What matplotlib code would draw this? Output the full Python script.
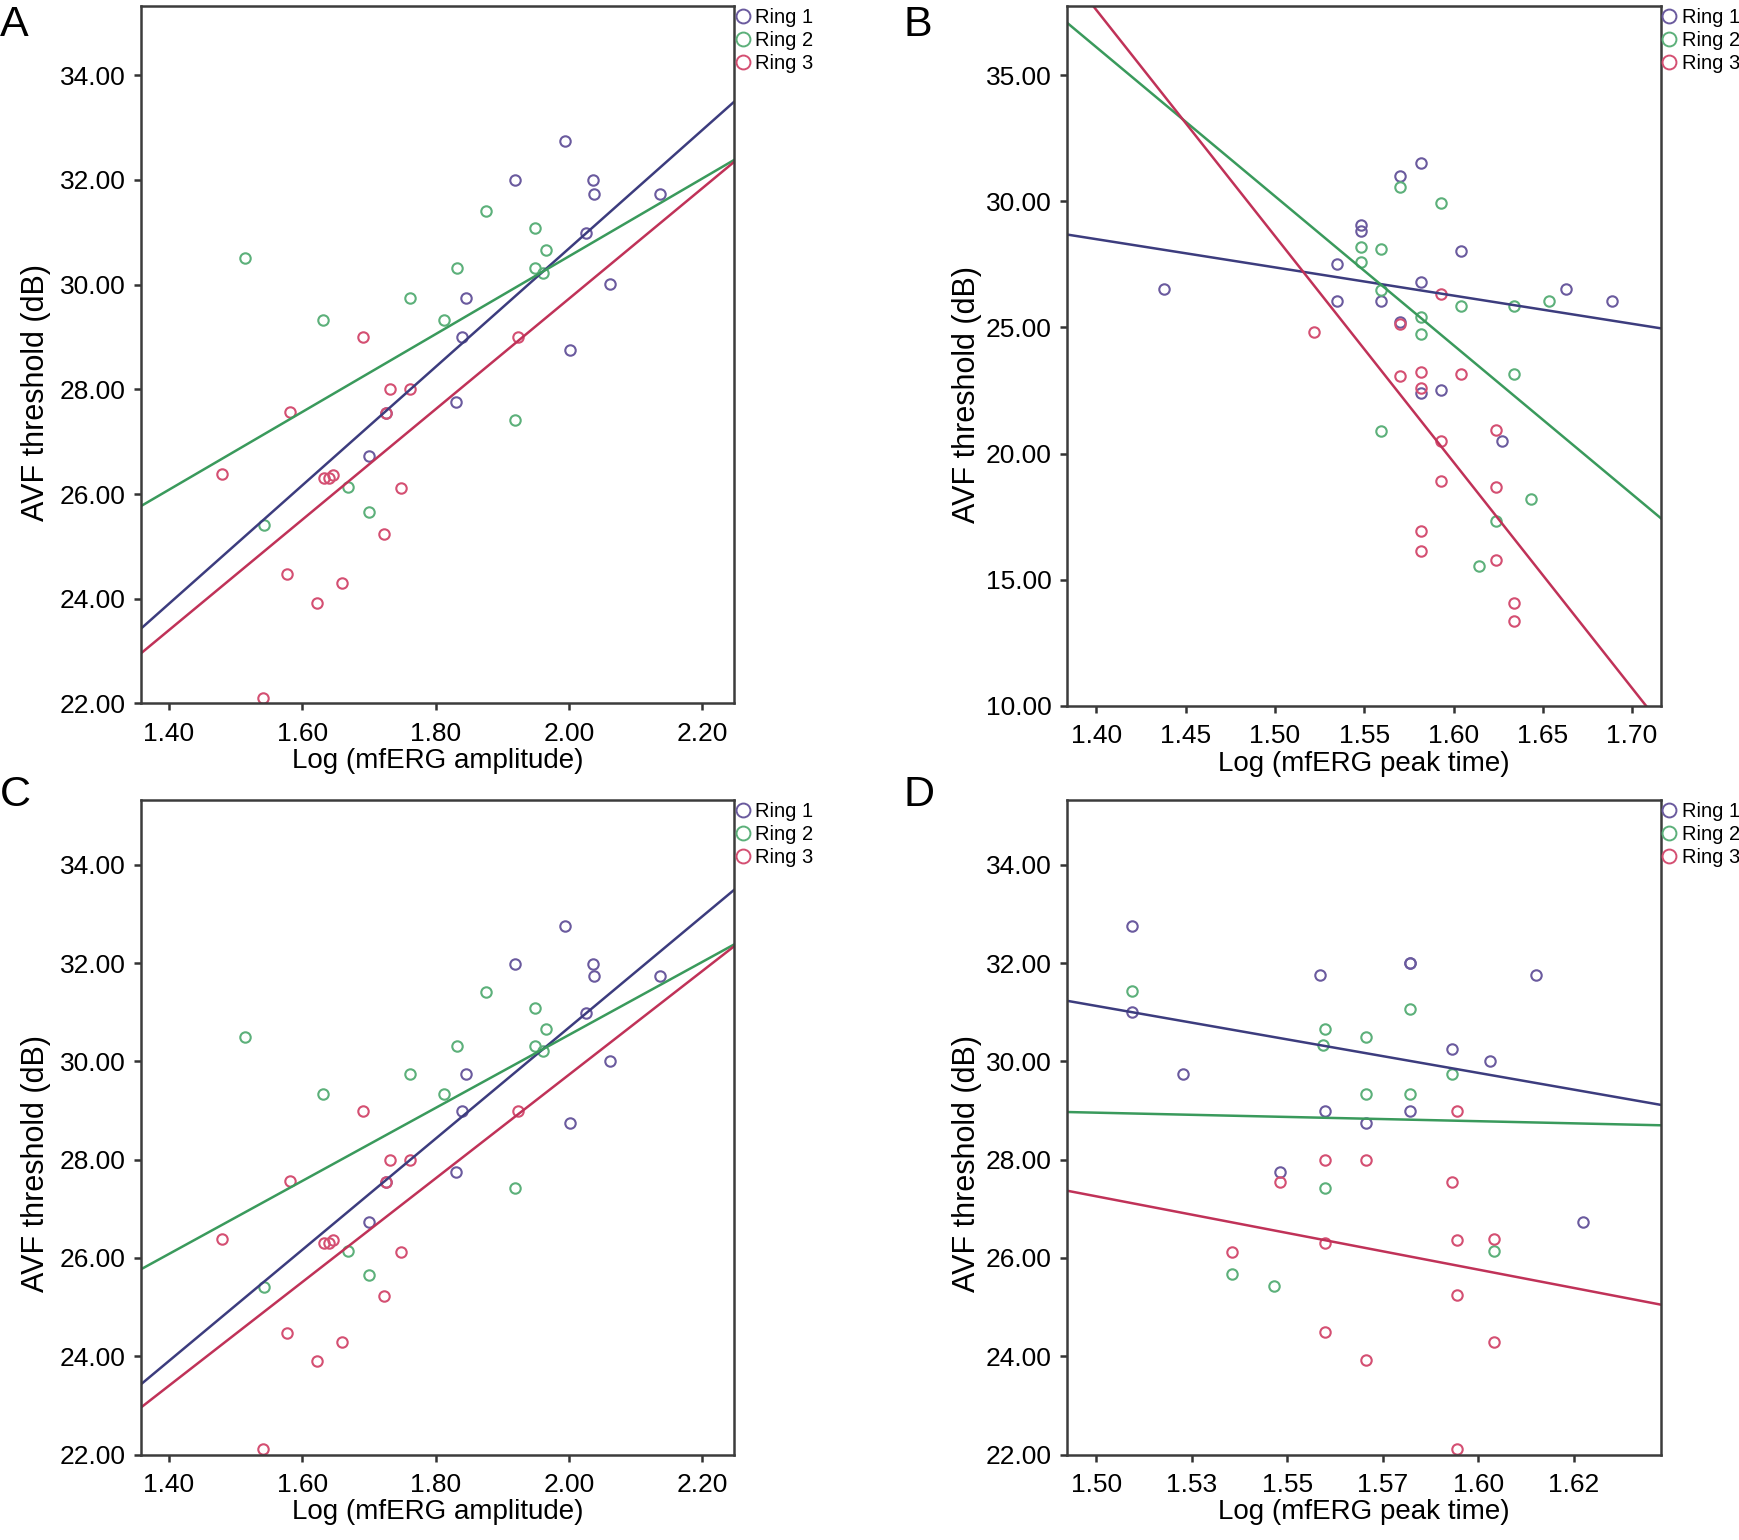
import numpy as np
import matplotlib.pyplot as plt
from matplotlib.lines import Line2D

plt.rcParams['font.family'] = ['Liberation Sans', 'DejaVu Sans']

ring_names = ['Ring 1', 'Ring 2', 'Ring 3']
line_colors = ['#3c3c7e', '#3a9a5c', '#c03258']
marker_colors = ['#6a5a9e', '#5cb07a', '#d44f72']

# --- Log (mfERG amplitude) vs AVF threshold (panels A and C) ---
amp_r1_x = [1.994, 1.919, 2.036, 2.038, 2.137, 2.026, 2.061, 1.846, 1.840, 2.001, 1.830, 1.700, 1.725]
amp_r1_y = [32.75, 31.99, 31.99, 31.74, 31.74, 30.99, 30.01, 29.75, 28.99, 28.75, 27.76, 26.73, 27.55]
amp_r2_x = [1.514, 1.631, 1.542, 1.668, 1.700, 1.762, 1.813, 1.832, 1.875, 1.919, 1.949, 1.949, 1.965, 1.961]
amp_r2_y = [30.50, 29.33, 25.41, 26.14, 25.66, 29.74, 29.33, 30.32, 31.41, 27.42, 31.08, 30.32, 30.66, 30.22]
amp_r3_x = [1.479, 1.582, 1.541, 1.577, 1.622, 1.659, 1.633, 1.640, 1.646, 1.691, 1.725, 1.731, 1.762, 1.723, 1.748, 1.923]
amp_r3_y = [26.38, 27.57, 22.11, 24.48, 23.91, 24.30, 26.31, 26.31, 26.37, 28.99, 27.55, 28.00, 28.00, 25.23, 26.12, 28.99]
amp_fit_intercept = [8.07, 15.68, 8.63]
amp_fit_slope = [11.31, 7.43, 10.55]

# --- Log (mfERG peak time) vs AVF threshold, panel B ---
ptb_r1_x = [1.438, 1.535, 1.535, 1.548, 1.548, 1.5595, 1.570, 1.570, 1.5816, 1.5816, 1.5816, 1.593, 1.604, 1.627, 1.663, 1.689]
ptb_r1_y = [26.52, 27.51, 26.03, 29.05, 28.81, 26.03, 31.01, 25.21, 31.50, 26.81, 22.39, 22.53, 28.03, 20.51, 26.52, 26.05]
ptb_r2_x = [1.548, 1.548, 1.5595, 1.570, 1.593, 1.5595, 1.5816, 1.5816, 1.604, 1.6336, 1.6536, 1.6336, 1.5595, 1.6436, 1.624, 1.614]
ptb_r2_y = [28.17, 27.59, 28.09, 30.56, 29.92, 26.48, 25.41, 24.73, 25.86, 25.86, 26.05, 23.17, 20.88, 18.21, 17.33, 15.54]
ptb_r3_x = [1.522, 1.570, 1.5816, 1.5816, 1.593, 1.604, 1.593, 1.593, 1.624, 1.624, 1.5816, 1.5816, 1.624, 1.6336, 1.6336, 1.570]
ptb_r3_y = [24.82, 23.07, 23.23, 22.59, 26.32, 23.17, 20.49, 18.93, 20.93, 18.66, 16.91, 16.13, 15.78, 14.07, 13.35, 25.12]
ptb_fit_intercept = [44.15, 118.79, 163.02]
ptb_fit_slope = [-11.18, -59.06, -89.6]

# --- Log (mfERG peak time) vs AVF threshold, panel D ---
ptd_r1_x = [1.5093, 1.5093, 1.5226, 1.5587, 1.5822, 1.5822, 1.6151, 1.5932, 1.6031, 1.560, 1.5822, 1.5707, 1.5481, 1.6275]
ptd_r1_y = [32.75, 31.00, 29.75, 31.75, 32.00, 32.00, 31.75, 30.25, 30.00, 29.00, 29.00, 28.74, 27.76, 26.74]
ptd_r2_x = [1.5093, 1.560, 1.5594, 1.5707, 1.5822, 1.5707, 1.5822, 1.5932, 1.560, 1.5354, 1.5466, 1.6042]
ptd_r2_y = [31.43, 30.67, 30.33, 30.50, 31.07, 29.33, 29.33, 29.75, 27.42, 25.67, 25.42, 26.14]
ptd_r3_x = [1.5481, 1.560, 1.5707, 1.5932, 1.5944, 1.5354, 1.560, 1.5944, 1.6042, 1.5944, 1.560, 1.6042, 1.5707, 1.5944]
ptd_r3_y = [27.54, 27.99, 27.99, 27.54, 29.00, 26.12, 26.30, 26.37, 26.39, 25.24, 24.49, 24.30, 23.92, 22.12]
ptd_fit_intercept = [51.56, 31.56, 49.62]
ptd_fit_slope = [-13.62, -1.735, -14.91]

amp_ticks = [1.40, 1.60, 1.80, 2.00, 2.20]
ptb_ticks = [1.40, 1.45, 1.50, 1.55, 1.60, 1.65, 1.70]
ptd_ticks = [1.500, 1.525, 1.550, 1.575, 1.600, 1.625]
ptd_ticklabels = ['1.50', '1.53', '1.55', '1.57', '1.60', '1.62']
amp_yticks = [22, 24, 26, 28, 30, 32, 34]
ptb_yticks = [10, 15, 20, 25, 30, 35]

fig = plt.figure(figsize=(17.4, 15.4), dpi=100)


def panel(rect, letter, letter_pos, ylabel_x, xs, ys, intercepts, slopes, xlim, ylim,
          xticks, yticks, xlabel, xticklabels=None):
    ax = fig.add_axes(rect)
    for i in range(3):
        ax.plot(xs[i], ys[i], linestyle='none', marker='o', markersize=7.5,
                markerfacecolor='none', markeredgecolor=marker_colors[i],
                markeredgewidth=1.5)
    lx = np.array(xlim)
    for i in range(3):
        ax.plot(lx, intercepts[i] + slopes[i] * lx, color=line_colors[i], lw=1.8)
    ax.set_xlim(xlim)
    ax.set_ylim(ylim)
    ax.set_xticks(xticks)
    if xticklabels is None:
        ax.set_xticklabels(['%.2f' % v for v in xticks])
    else:
        ax.set_xticklabels(xticklabels)
    ax.set_yticks(yticks)
    ax.set_yticklabels(['%.2f' % v for v in yticks])
    ax.tick_params(labelsize=19, length=5, width=1.8, color='#333333', pad=6)
    ax.tick_params(axis='x', pad=8)
    for s in ax.spines.values():
        s.set_linewidth(1.8)
        s.set_color('#3c3c3c')
    ax.set_xlabel(xlabel, fontsize=20, labelpad=2)
    ax.set_ylabel('AVF threshold (dB)', fontsize=22)
    ax.yaxis.set_label_coords(ylabel_x, 0.445)
    handles = [Line2D([], [], linestyle='none', marker='o', markersize=10,
                      markerfacecolor='none', markeredgecolor=marker_colors[i],
                      markeredgewidth=1.4) for i in range(3)]
    ax.legend(handles, ring_names, loc='upper left', bbox_to_anchor=(1.004, 0.996),
              frameon=False, fontsize=14.5, handlelength=0.6, handletextpad=0.3,
              borderaxespad=0.0, borderpad=0.0, labelspacing=0.2)
    fig.text(letter_pos[0], letter_pos[1], letter, fontsize=31, va='top', ha='left')
    return ax


amp_xs = [amp_r1_x, amp_r2_x, amp_r3_x]
amp_ys = [amp_r1_y, amp_r2_y, amp_r3_y]

panel([0.081, 0.5432, 0.341, 0.4532], 'A', (0.0, 0.997), -0.152, amp_xs, amp_ys,
      amp_fit_intercept, amp_fit_slope, (1.358, 2.248), (22.0, 35.33),
      amp_ticks, amp_yticks, 'Log (mfERG amplitude)')

panel([0.6132, 0.5417, 0.3414, 0.4547], 'B', (0.519, 0.997), -0.143,
      [ptb_r1_x, ptb_r2_x, ptb_r3_x], [ptb_r1_y, ptb_r2_y, ptb_r3_y],
      ptb_fit_intercept, ptb_fit_slope, (1.3835, 1.7162), (10.0, 37.76),
      ptb_ticks, ptb_yticks, 'Log (mfERG peak time)')

panel([0.081, 0.0555, 0.341, 0.4253], 'C', (0.0, 0.497), -0.152, amp_xs, amp_ys,
      amp_fit_intercept, amp_fit_slope, (1.358, 2.248), (22.0, 35.33),
      amp_ticks, amp_yticks, 'Log (mfERG amplitude)')

panel([0.6132, 0.0555, 0.3414, 0.4253], 'D', (0.519, 0.497), -0.143,
      [ptd_r1_x, ptd_r2_x, ptd_r3_x], [ptd_r1_y, ptd_r2_y, ptd_r3_y],
      ptd_fit_intercept, ptd_fit_slope, (1.4923, 1.6479), (22.0, 35.33),
      ptd_ticks, amp_yticks, 'Log (mfERG peak time)', ptd_ticklabels)

fig.savefig('out.png', dpi=100, facecolor='white')
